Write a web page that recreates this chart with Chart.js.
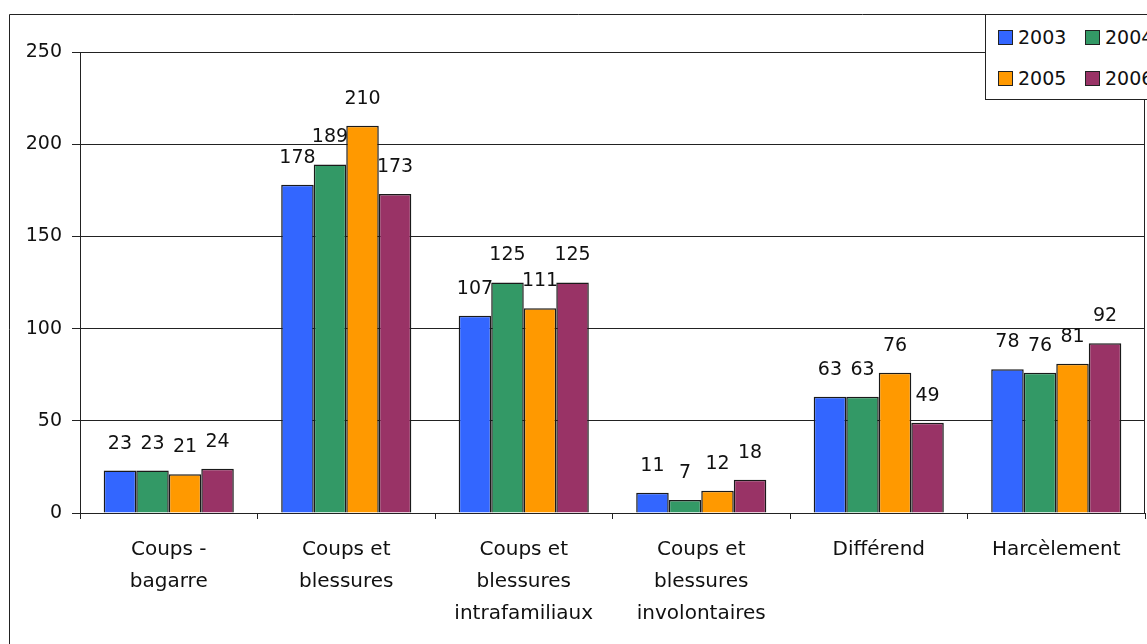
<!DOCTYPE html>
<html>
<head>
<meta charset="utf-8">
<script src="https://cdn.jsdelivr.net/npm/chart.js@4.4.1/dist/chart.umd.min.js"></script>
<style>
  html, body { margin: 0; padding: 0; background: #fff; overflow: hidden; }
  #wrap { position: relative; width: 1147px; height: 644px; overflow: hidden; }
  #legend {
    position: absolute; left: 985px; top: 14px; width: 200px; height: 86px;
    background: #fff; border: 1px solid #222; box-sizing: border-box;
    font-family: 'DejaVu Sans', sans-serif; font-size: 19px; color: #111;
  }
  .item { position: absolute; display: flex; align-items: center; }
  .sw { width: 13px; height: 13px; border: 1px solid #222; margin-right: 5px; }
</style>
</head>
<body>
<div id="wrap">
  <canvas id="crimeChart" width="1147" height="644"></canvas>
  <div id="legend"></div>
</div>
<script>
const categories = [
  ['Coups -', 'bagarre'],
  ['Coups et', 'blessures'],
  ['Coups et', 'blessures', 'intrafamiliaux'],
  ['Coups et', 'blessures', 'involontaires'],
  'Différend',
  'Harcèlement'
];
const years = ['2003', '2004', '2005', '2006'];
const values2003 = [23, 178, 107, 11, 63, 78];
const values2004 = [23, 189, 125, 7, 63, 76];
const values2005 = [21, 210, 111, 12, 76, 81];
const values2006 = [24, 173, 125, 18, 49, 92];
const yTicks = [0, 50, 100, 150, 200, 250];

const colors = ['#3366FF', '#339966', '#FF9900', '#993366'];
const series = [values2003, values2004, values2005, values2006];
const fontFamily = "'DejaVu Sans', sans-serif";

// legend, drawn as html so it can sit over the plot corner
const legendEl = document.getElementById('legend');
years.forEach((y, i) => {
  const item = document.createElement('div');
  item.className = 'item';
  item.style.left = (i % 2 === 0 ? 12 : 99) + 'px';
  item.style.top = (i < 2 ? 11 : 52) + 'px';
  item.innerHTML = `<span class="sw" style="background:${colors[i]}"></span>${y}`;
  legendEl.appendChild(item);
});

const framePlugin = {
  id: 'frame',
  beforeDraw(chart) {
    const { ctx } = chart;
    ctx.save();
    ctx.fillStyle = '#fff';
    ctx.fillRect(0, 0, chart.width, chart.height);
    ctx.strokeStyle = '#222';
    ctx.lineWidth = 1;
    ctx.beginPath();
    ctx.moveTo(9.5, chart.height);
    ctx.lineTo(9.5, 14.5);
    ctx.lineTo(chart.width, 14.5);
    ctx.stroke();
    ctx.restore();
  },
  afterDraw(chart) {
    const { ctx, chartArea } = chart;
    ctx.save();
    ctx.strokeStyle = '#222';
    ctx.lineWidth = 1;
    ctx.beginPath();
    ctx.moveTo(chartArea.right - 0.5, chartArea.top);
    ctx.lineTo(chartArea.right - 0.5, chartArea.bottom);
    ctx.stroke();
    ctx.restore();
  }
};

const valueLabels = {
  id: 'valueLabels',
  afterDatasetsDraw(chart) {
    const { ctx } = chart;
    ctx.save();
    ctx.font = `19px ${fontFamily}`;
    ctx.fillStyle = '#111';
    ctx.textAlign = 'center';
    ctx.textBaseline = 'middle';
    chart.data.datasets.forEach((ds, i) => {
      chart.getDatasetMeta(i).data.forEach((bar, j) => {
        ctx.fillText(ds.data[j], bar.x, bar.y - 27);
      });
    });
    ctx.restore();
  }
};

new Chart(document.getElementById('crimeChart'), {
  type: 'bar',
  data: {
    labels: categories,
    datasets: years.map((y, i) => ({
      label: y,
      data: series[i],
      backgroundColor: colors[i],
      borderColor: '#1a1a1a',
      borderWidth: 1.5,
      barPercentage: 1,
      categoryPercentage: 0.733
    }))
  },
  options: {
    responsive: false,
    animation: false,
    layout: { padding: { left: 0, top: 52, right: 2, bottom: 0 } },
    plugins: {
      legend: { display: false },
      tooltip: { enabled: false }
    },
    scales: {
      x: {
        grid: { drawOnChartArea: false, drawTicks: true, tickLength: 6, color: '#222', offset: true },
        border: { display: true, color: '#222' },
        ticks: {
          color: '#111',
          font: { family: fontFamily, size: 20, lineHeight: 1.6 },
          padding: 15,
          maxRotation: 0,
          autoSkip: false
        },
        afterFit: (s) => { s.height = 131; }
      },
      y: {
        min: 0,
        max: 250,
        afterBuildTicks: (s) => { s.ticks = yTicks.map(v => ({ value: v })); },
        grid: { color: '#222', tickLength: 8 },
        border: { display: true, color: '#222' },
        ticks: {
          color: '#111',
          font: { family: fontFamily, size: 19 },
          padding: 10
        },
        afterFit: (s) => { s.width = 80; }
      }
    }
  },
  plugins: [framePlugin, valueLabels]
});
</script>
</body>
</html>
